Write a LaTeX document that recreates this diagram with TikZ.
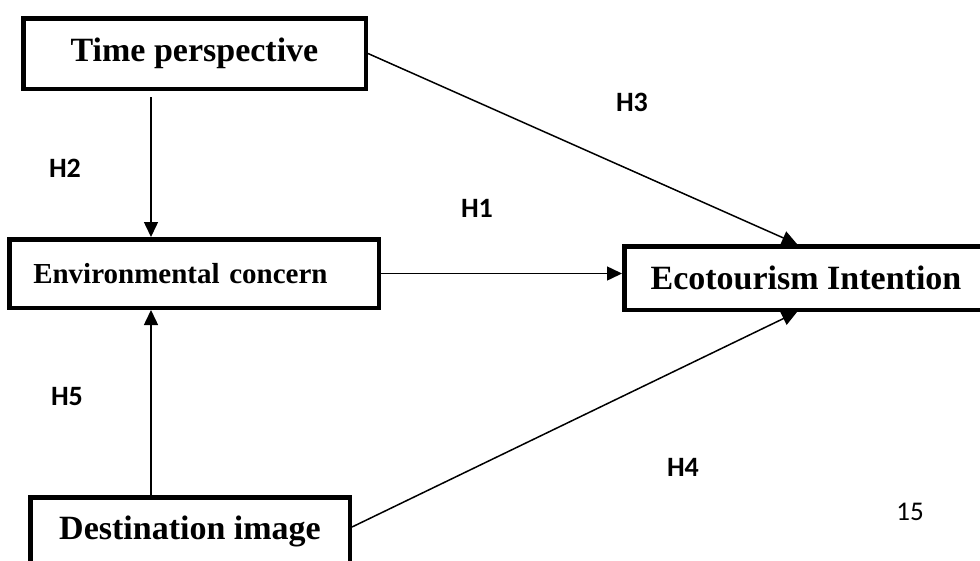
\documentclass[tikz,border=0pt]{standalone}
\usepackage{fontspec}
\setmainfont{Liberation Serif}
\newfontfamily\carlito{Carlito}
\usetikzlibrary{arrows.meta,positioning}

\begin{document}
\begin{tikzpicture}[x=1pt, y=-1pt,
  construct/.style={rectangle, draw, line width=4.5pt, inner sep=0pt, font=\fontsize{34}{40}\selectfont\bfseries},
  path/.style={-{Triangle[length=15pt, width=14pt]}, line width=1.5pt},
  hyp/.style={font=\carlito\fontsize{28}{32}\selectfont\bfseries}
]
\useasboundingbox (0,0) rectangle (980,560);
\clip (0,0) rectangle (980,560);

% constructs
\node[construct, minimum width=342.5pt, minimum height=70.5pt] (T) at (194.5,53.5) {Time perspective};
\node[construct, minimum height=68.5pt, text width=321.5pt, inner xsep=24pt, align=left,
      font=\fontsize{29}{34}\selectfont\bfseries] (E) at (194,273.5) {Environmental concern};
\node[construct, minimum width=363.5pt, minimum height=63.5pt] (I) at (806,278) {Ecotourism Intention};
\node[construct, minimum width=319.5pt, minimum height=67.5pt] (D) at (190,531) {Destination image};

% paths
\draw[path, shorten <=6pt] ([xshift=-43.5pt]T.south) -- ([xshift=-43pt]E.north);
\draw[path] ([xshift=-39pt]D.north) -- ([xshift=-43pt]E.south);
\draw[path] (E.east) -- (E.east -| I.west);
\draw[path] (T.east) -- ([xshift=-9pt]I.north);
\draw[path] ([yshift=4pt]D.east) -- ([xshift=-9pt]I.south);

% hypotheses
\node[hyp] (h1) at (477,208) {H1};
\node[hyp] (h2) at (65,168) {H2};
\node[hyp] (h3) at (632,102) {H3};
\node[hyp] (h4) at (683,467) {H4};
\node[hyp] (h5) at (67,397) {H5};
\node[font=\carlito\fontsize{27}{32}\selectfont] (pg) at (910,512) {15};

\end{tikzpicture}
\end{document}
